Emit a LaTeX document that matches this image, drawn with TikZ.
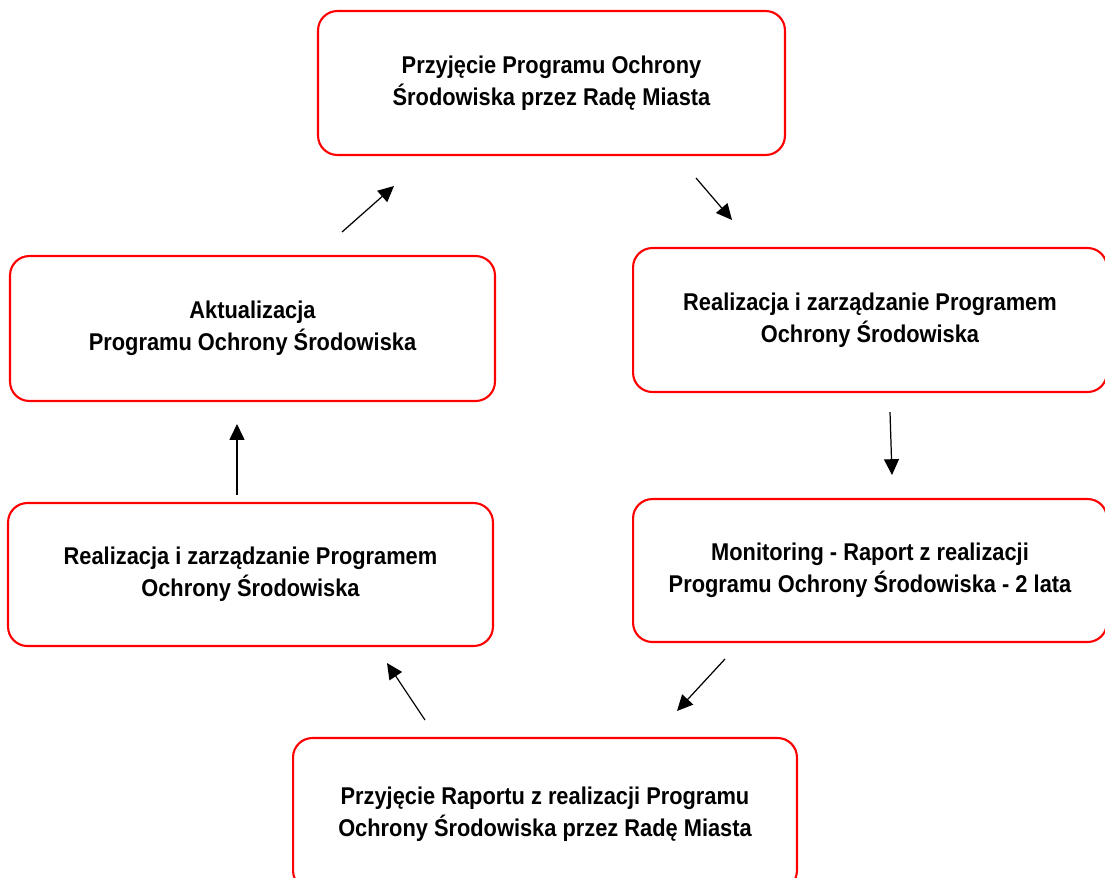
\documentclass[tikz,border=0pt]{standalone}
\usepackage{fontspec}
\setmainfont{Liberation Sans}[FakeStretch=0.9]
\usepackage{tikz}
\usetikzlibrary{arrows.meta}

\begin{document}
\begin{tikzpicture}[
  x=0.02cm, y=-0.02cm,
  every node/.style={font=\fontsize{13.8pt}{18.4pt}\selectfont\bfseries, align=center},
  box/.style={draw=red, line width=1.2pt, rounded corners=11pt, inner sep=0pt},
  arr/.style={-{Triangle[length=9pt,width=8.5pt]}, line width=0.7pt},
]
  \useasboundingbox (0,0) rectangle (1105,877);

  \node[box, minimum width=9.34cm, minimum height=2.88cm] (prog) at (551.5,83)
    {Przyjęcie Programu Ochrony\\Środowiska przez Radę Miasta};
  \node[box, minimum width=9.48cm, minimum height=2.88cm] (realR) at (870,320)
    {Realizacja i zarządzanie Programem\\Ochrony Środowiska};
  \node[box, minimum width=9.48cm, minimum height=2.86cm] (mon) at (870,570.5)
    {Monitoring - Raport z realizacji\\Programu Ochrony Środowiska - 2 lata};
  \node[box, minimum width=10.08cm, minimum height=3.04cm] (rap) at (545,814)
    {Przyjęcie Raportu z realizacji Programu\\Ochrony Środowiska przez Radę Miasta};
  \node[box, minimum width=9.70cm, minimum height=2.86cm] (realL) at (250.5,574.5)
    {Realizacja i zarządzanie Programem\\Ochrony Środowiska};
  \node[box, minimum width=9.70cm, minimum height=2.90cm] (akt) at (252.5,328.5)
    {Aktualizacja\\Programu Ochrony Środowiska};

  \coordinate (aktout) at (342,232);   \coordinate (progin) at (394,186);
  \coordinate (progout) at (696,178);  \coordinate (realRin) at (732,220);
  \coordinate (realRout) at (890,412); \coordinate (monin) at (892,475);
  \coordinate (monout) at (725,659);   \coordinate (rapin) at (677,711);
  \coordinate (rapout) at (425,720);   \coordinate (realLin) at (387,663);
  \coordinate (realLout) at (237,495); \coordinate (aktin) at (237,424);

  \foreach \from/\to in {aktout/progin, progout/realRin, realRout/monin,
                         monout/rapin, rapout/realLin, realLout/aktin}
    \draw[arr] (\from) -- (\to);
\end{tikzpicture}
\end{document}
